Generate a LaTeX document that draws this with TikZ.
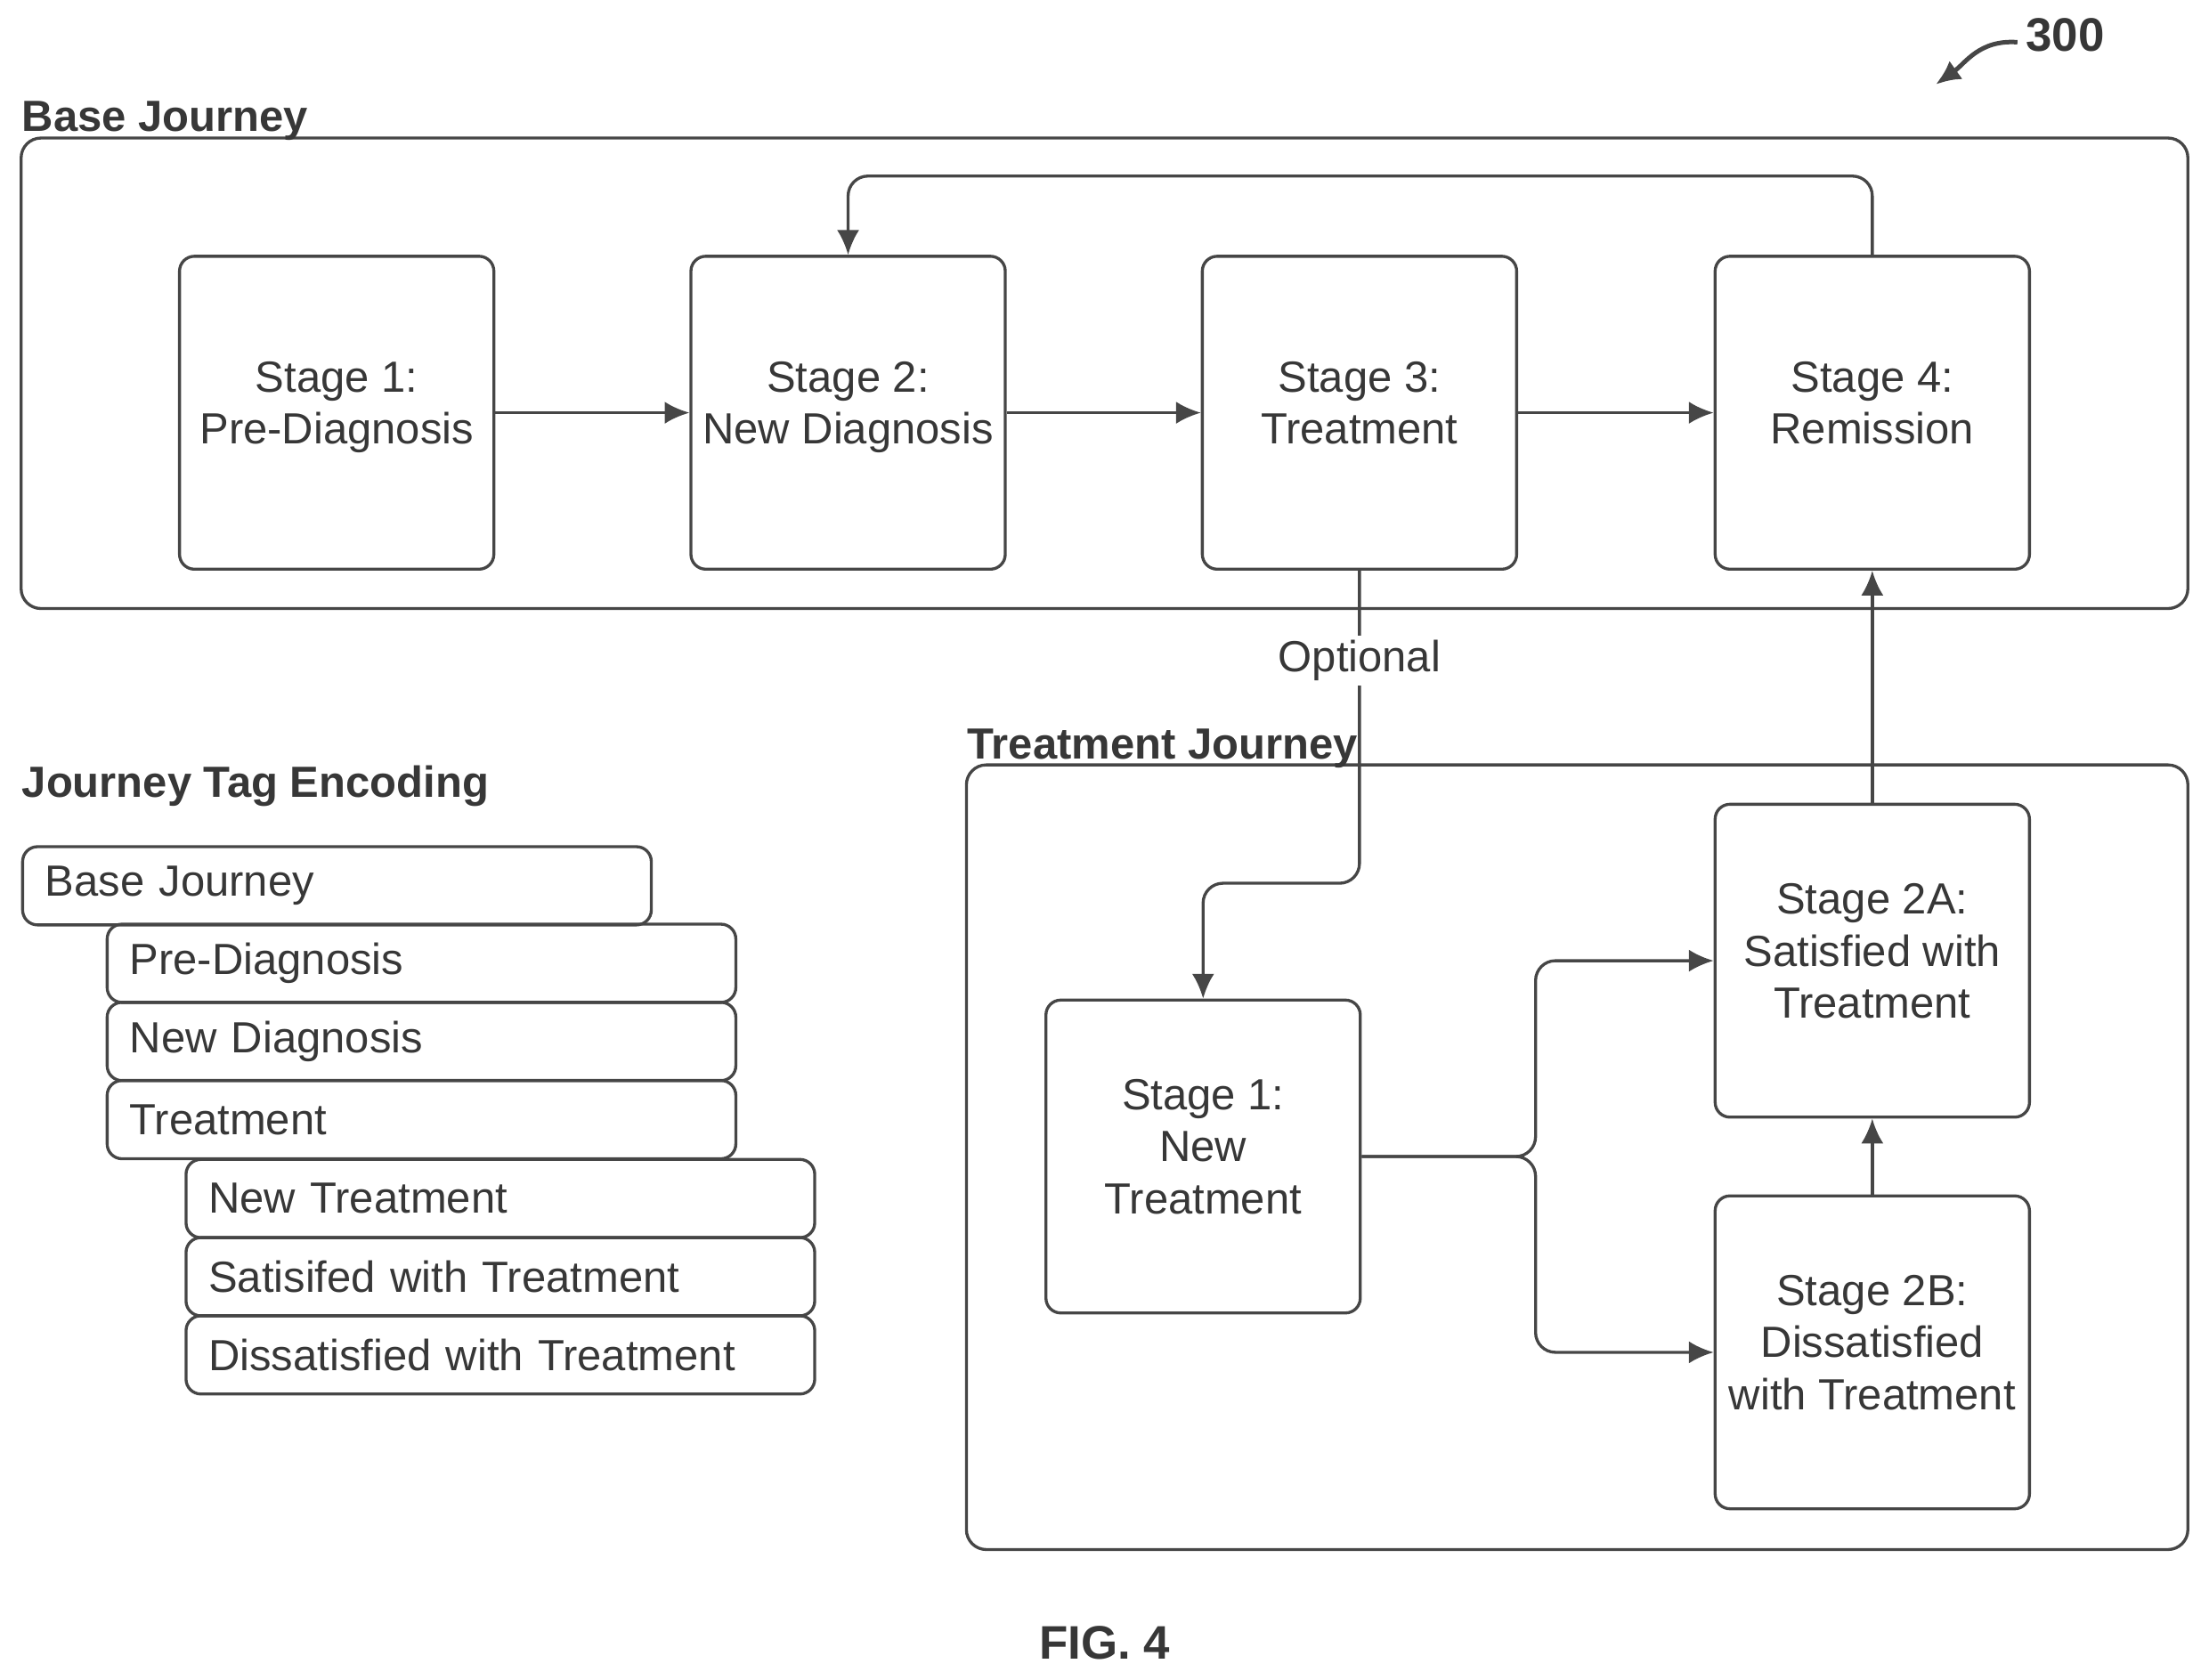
\documentclass[tikz,border=0pt]{standalone}
\usepackage{fontspec}
\setmainfont{Liberation Sans}
\usetikzlibrary{arrows.meta, positioning}
\definecolor{textdark}{RGB}{55, 55, 55}
\definecolor{linegray}{RGB}{70, 70, 70}
\tikzset{
    stage/.style={draw=linegray, line width=0.6pt, rounded corners=3pt, minimum width=2.23cm, minimum height=2.22cm, align=center, text=textdark, font=\fontsize{8.8}{10.5}\selectfont, inner sep=0pt},
    frame/.style={draw=linegray, line width=0.6pt, rounded corners=4pt},
    tag/.style={draw=linegray, line width=0.6pt, rounded corners=3pt, minimum width=4.46cm, minimum height=0.555cm, anchor=north west, text=textdark, font=\fontsize{8.8}{10.5}\selectfont, align=left, text width=4.14cm, inner sep=0pt, inner xsep=0.16cm},
    heading/.style={anchor=base west, font=\bfseries\fontsize{8.8}{10.5}\selectfont, text=textdark, inner sep=0pt},
    flow/.style={draw=linegray, line width=0.6pt, -{Latex[length=5pt, width=4.5pt]}}
}
\begin{document}
\begin{tikzpicture}[x=0.01cm, y=-0.01cm]
    \useasboundingbox (0,0) rectangle (1568,1192);
    % base journey
    \draw[frame] (15,98) rectangle (1553,432);
    \node[heading] (basetitle) at (15,93) {Base Journey};
    \node[stage] (b1) at (239,293) {Stage 1:\\Pre-Diagnosis\\[-6.5pt]};
    \node[stage] (b2) at (602,293) {Stage 2:\\New Diagnosis\\[-6.5pt]};
    \node[stage] (b3) at (965,293) {Stage 3:\\Treatment\\[-6.5pt]};
    \node[stage] (b4) at (1329,293) {Stage 4:\\Remission\\[-6.5pt]};
    \draw[flow] (b1) -- (b2);
    \draw[flow] (b2) -- (b3);
    \draw[flow] (b3) -- (b4);
    \draw[flow, rounded corners=4pt] (b4.north) |- (602,125) -- (b2.north);
    % treatment journey
    \draw[frame] (686,543) rectangle (1553,1100);
    \node[heading] (treattitle) at (686,539) {Treatment Journey};
    \node[stage] (t1) at (854,821) {Stage 1:\\New\\Treatment\\[-6.5pt]};
    \node[stage] (t2a) at (1329,682) {Stage 2A:\\Satisfied with\\Treatment\\[-6.5pt]};
    \node[stage] (t2b) at (1329,960) {Stage 2B:\\Dissatisfied\\with Treatment\\[-6.5pt]};
    \draw[flow, rounded corners=4pt] (b3.south) -- (965,627) -| (t1.north);
    \node[fill=white, inner sep=1pt, text=textdark, font=\fontsize{8.8}{10.5}\selectfont] (opt) at (965,469) {Optional};
    \draw[flow, rounded corners=4pt] (t1.east) -- (1090,821) |- (t2a.west);
    \draw[flow, rounded corners=4pt] (t1.east) -- (1090,821) |- (t2b.west);
    \draw[flow] (t2b) -- (t2a);
    \draw[flow] (t2a) -- (b4);
    % tag encoding
    \node[heading] (tagtitle) at (15,566) {Journey Tag Encoding};
    \node[tag] (tbase) at (15,600) {Base Journey};
    \node[tag] (tpre) at (75,655) {Pre-Diagnosis};
    \node[tag] (tnew) at (75,710.5) {New Diagnosis};
    \node[tag] (ttreat) at (75,766) {Treatment};
    \node[tag] (tnt) at (131,822) {New Treatment};
    \node[tag] (tsat) at (131,877.5) {Satisifed with Treatment};
    \node[tag] (tdis) at (131,933) {Dissatisfied with Treatment};
    % reference numeral
    \node[font=\bfseries\fontsize{9.5}{11}\selectfont, text=textdark] (ref) at (1466,25) {300};
    \draw[flow, line width=0.9pt] (1432,30) .. controls (1405,28) and (1395,45) .. (1374,60);
    \node[font=\bfseries\fontsize{9.5}{11}\selectfont, text=textdark] (fig) at (784,1166) {FIG. 4};
\end{tikzpicture}
\end{document}
